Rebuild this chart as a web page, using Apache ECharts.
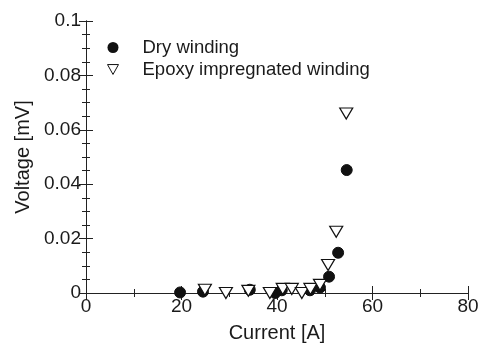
<!DOCTYPE html>
<html><head><meta charset="utf-8">
<script src="https://cdn.jsdelivr.net/npm/echarts@6/dist/echarts.min.js"></script>
<style>html,body{margin:0;padding:0;background:#fff}#c{width:484px;height:343px}</style>
</head><body><div id="c"></div>
<script>
const dryX = [19.7, 24.5, 34.3, 39.6, 41.0, 46.9, 49.0, 50.9, 52.8, 54.6];
const dryY = [0.0002, 0.0005, 0.0012, 0.0, 0.001, 0.001, 0.002, 0.006, 0.0148, 0.0452];
const epoX = [24.9, 29.3, 34.0, 38.5, 41.2, 43.1, 45.2, 47.0, 49.0, 50.7, 52.4, 54.5];
const epoY = [0.0012, 0.0, 0.0008, 0.0, 0.0015, 0.0015, 0.0, 0.0015, 0.003, 0.0103, 0.0225, 0.066];
const seriesNames = ['Dry winding', 'Epoxy impregnated winding'];
const xTitle = 'Current [A]';
const yTitle = 'Voltage [mV]';

const tri = 'path://M0,0 L10,0 L5,9 Z';
const font = 'Liberation Sans, Arial, sans-serif';
const txt = '#1a1a1a';
const chart = echarts.init(document.getElementById('c'), null, {renderer: 'canvas'});
const axisCommon = {
  axisLine: {show: true, lineStyle: {color: '#222', width: 1}},
  axisTick: {show: true, inside: true, length: 7, lineStyle: {color: '#222'}},
  minorTick: {show: true, splitNumber: 2, length: 4, lineStyle: {color: '#222'}},
  splitLine: {show: false}
};
const yMinor = {minorTick: {show: true, splitNumber: 4, length: 4, lineStyle: {color: '#222'}}};
chart.setOption({
  animation: false,
  grid: {left: 86, right: 16, top: 21, bottom: 50, containLabel: false, outerBoundsMode: 'none'},
  legend: {
    orient: 'vertical', left: 107, top: 38, itemGap: 3, itemWidth: 11, itemHeight: 11, padding: 0,
    textStyle: {fontFamily: font, fontSize: 18.5, lineHeight: 18, color: txt, padding: [0, 0, 0, 19]},
    data: [{name: seriesNames[0], icon: 'circle', itemStyle: {color: '#111'}},
           {name: seriesNames[1], icon: tri, itemStyle: {color: '#fff', borderColor: '#111', borderWidth: 1}}]
  },
  xAxis: [
    Object.assign({type: 'value', min: 0, max: 80, interval: 20, name: xTitle, nameLocation: 'middle', nameGap: 30,
      nameTextStyle: {fontFamily: font, fontSize: 20, color: txt},
      axisLabel: {fontFamily: font, fontSize: 19, color: txt, margin: 4}}, axisCommon),
    Object.assign({type: 'value', min: 0, max: 80, interval: 20, position: 'top', axisLabel: {show: false}}, axisCommon)
  ],
  yAxis: [
    Object.assign({type: 'value', min: 0, max: 0.1, interval: 0.02, name: yTitle, nameLocation: 'middle', nameGap: 50,
      nameTextStyle: {fontFamily: font, fontSize: 20, color: txt},
      axisLabel: {fontFamily: font, fontSize: 19, color: txt, margin: 5}}, axisCommon, yMinor),
    Object.assign({type: 'value', min: 0, max: 0.1, interval: 0.02, position: 'right', axisLabel: {show: false}},
      axisCommon, yMinor)
  ],
  series: [
    {name: seriesNames[0], type: 'scatter', symbol: 'circle', symbolSize: 11,
      itemStyle: {color: '#111', borderColor: '#111', opacity: 1},
      data: dryX.map((x, i) => [x, dryY[i]]), z: 3},
    {name: seriesNames[1], type: 'scatter', symbol: tri, symbolSize: [13, 11],
      itemStyle: {color: '#fff', borderColor: '#111', borderWidth: 1.2, opacity: 1},
      data: epoX.map((x, i) => [x, epoY[i]]), z: 4}
  ]
});
</script></body></html>
